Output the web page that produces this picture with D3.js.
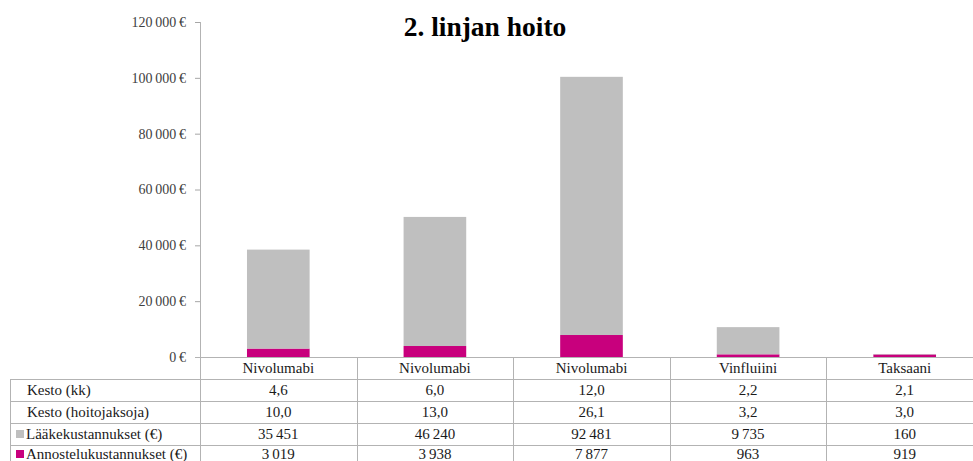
<!DOCTYPE html>
<html>
<head>
<meta charset="utf-8">
<script src="https://cdn.jsdelivr.net/npm/d3@7/dist/d3.min.js"></script>
<style>
  html, body { margin: 0; padding: 0; background: #fff; overflow: hidden; }
  svg { display: block; font-family: "Liberation Serif", "DejaVu Serif", serif; }
</style>
</head>
<body>
<svg id="chart" width="973" height="461"></svg>
<script>
// Treatment options (second-line)
const categories = ["Nivolumabi", "Nivolumabi", "Nivolumabi", "Vinfluiini", "Taksaani"];
// Duration in months
const kestoKk = [4.6, 6.0, 12.0, 2.2, 2.1];
// Duration in treatment cycles
const kestoJaksot = [10.0, 13.0, 26.1, 3.2, 3.0];
// Drug costs (€)
const laakeKustannukset = [35451, 46240, 92481, 9735, 160];
// Administration costs (€)
const annosteluKustannukset = [3019, 3938, 7877, 963, 919];
// Y axis ticks (€)
const yTicks = [0, 20000, 40000, 60000, 80000, 100000, 120000];

const title = "2. linjan hoito";
const seriesNames = ["Lääkekustannukset (€)", "Annostelukustannukset (€)"];
const colors = { laake: "#bfbfbf", annostelu: "#c8007d" };

const fi = d3.formatLocale({ decimal: ",", thousands: "\u2009", grouping: [3], currency: ["", "\u2009€"] });
const fmtInt = fi.format(",d");
const fmtDec = fi.format(".1f");
const fmtEur = v => fi.format(",d")(v) + "\u2009€";

const svg = d3.select("#chart");

const plot = { left: 200, right: 983, top: 22, bottom: 357 };
const rowH = 22;
const tableLeft = 10;

const idx = categories.map((_, i) => i);
const x = d3.scaleBand().domain(idx).range([plot.left, plot.right]).paddingInner(0.6).paddingOuter(0.3);
const y = d3.scaleLinear().domain([0, 120000]).range([plot.bottom, plot.top]);

// Stacked bars: administration cost at the base, drug cost on top
const data = idx.map(i => ({ i, annostelu: annosteluKustannukset[i], laake: laakeKustannukset[i] }));
const stack = d3.stack().keys(["annostelu", "laake"])(data);

svg.append("g").selectAll("g")
  .data(stack)
  .join("g")
  .attr("fill", d => colors[d.key])
  .selectAll("rect")
  .data(d => d)
  .join("rect")
  .attr("x", d => x(d.data.i))
  .attr("width", x.bandwidth())
  .attr("y", d => y(d[1]))
  .attr("height", d => y(d[0]) - y(d[1]));

// Y axis
const yAxis = d3.axisLeft(y).tickValues(yTicks).tickFormat(fmtEur).tickSize(5).tickPadding(9);
const gy = svg.append("g").attr("transform", `translate(${plot.left},0)`).call(yAxis);
gy.attr("font-family", null).attr("font-size", null);
gy.select(".domain").remove();
gy.selectAll(".tick line").attr("stroke", "#a6a6a6");
gy.selectAll(".tick text")
  .attr("fill", "#404040")
  .attr("font-size", 14)
  .attr("font-family", "Liberation Serif, serif");

const lineColor = "#b3b3b3";
const tableBottom = 470;

// Axis line and its downward extension through the table
svg.append("line").attr("x1", plot.left + 0.5).attr("x2", plot.left + 0.5)
  .attr("y1", plot.top).attr("y2", tableBottom).attr("stroke", lineColor);
svg.append("line").attr("x1", plot.left - 5).attr("x2", plot.right)
  .attr("y1", plot.bottom + 0.5).attr("y2", plot.bottom + 0.5).attr("stroke", lineColor);

// Data table below the axis
const step = x.step();
const colEdges = idx.map(i => plot.left + i * step);
svg.append("g").selectAll("line")
  .data(colEdges.slice(1))
  .join("line")
  .attr("x1", d => Math.round(d) + 0.5).attr("x2", d => Math.round(d) + 0.5)
  .attr("y1", plot.bottom).attr("y2", tableBottom)
  .attr("stroke", lineColor);

const rowLines = [1, 2, 3, 4].map(r => plot.bottom + r * rowH);
svg.append("g").selectAll("line")
  .data(rowLines)
  .join("line")
  .attr("x1", tableLeft).attr("x2", plot.right)
  .attr("y1", d => d + 0.5).attr("y2", d => d + 0.5)
  .attr("stroke", lineColor);
svg.append("line").attr("x1", tableLeft + 0.5).attr("x2", tableLeft + 0.5)
  .attr("y1", plot.bottom + rowH).attr("y2", tableBottom).attr("stroke", lineColor);

const rows = [
  { label: "Kesto (kk)", values: kestoKk.map(fmtDec), swatch: null },
  { label: "Kesto (hoitojaksoja)", values: kestoJaksot.map(fmtDec), swatch: null },
  { label: seriesNames[0], values: laakeKustannukset.map(fmtInt), swatch: colors.laake },
  { label: seriesNames[1], values: annosteluKustannukset.map(fmtInt), swatch: colors.annostelu }
];

const textColor = "#1a1a1a";
const fontSize = "15px";

// Category header row
svg.append("g").selectAll("text")
  .data(idx)
  .join("text")
  .attr("x", i => x(i) + x.bandwidth() / 2)
  .attr("y", plot.bottom + 16)
  .attr("text-anchor", "middle")
  .attr("fill", textColor)
  .style("font-size", fontSize)
  .text(i => categories[i]);

rows.forEach((row, r) => {
  const top = plot.bottom + (r + 1) * rowH;
  const base = Math.min(top + 16, 459);
  const g = svg.append("g");
  if (row.swatch) {
    g.append("rect").attr("x", 16).attr("y", base - 9).attr("width", 8).attr("height", 8).attr("fill", row.swatch);
  }
  g.append("text")
    .attr("x", row.swatch ? 26 : 27).attr("y", base)
    .attr("fill", textColor).style("font-size", fontSize)
    .text(row.label);
  g.selectAll("text.v")
    .data(row.values)
    .join("text")
    .attr("class", "v")
    .attr("x", (_, i) => x(i) + x.bandwidth() / 2)
    .attr("y", base)
    .attr("text-anchor", "middle")
    .attr("fill", textColor).style("font-size", fontSize)
    .text(d => d);
});

// Title
svg.append("text")
  .attr("x", 485).attr("y", 36)
  .attr("text-anchor", "middle")
  .attr("fill", "#000")
  .style("font-size", "27.5px").style("font-weight", "bold")
  .text(title);
</script>
</body>
</html>
